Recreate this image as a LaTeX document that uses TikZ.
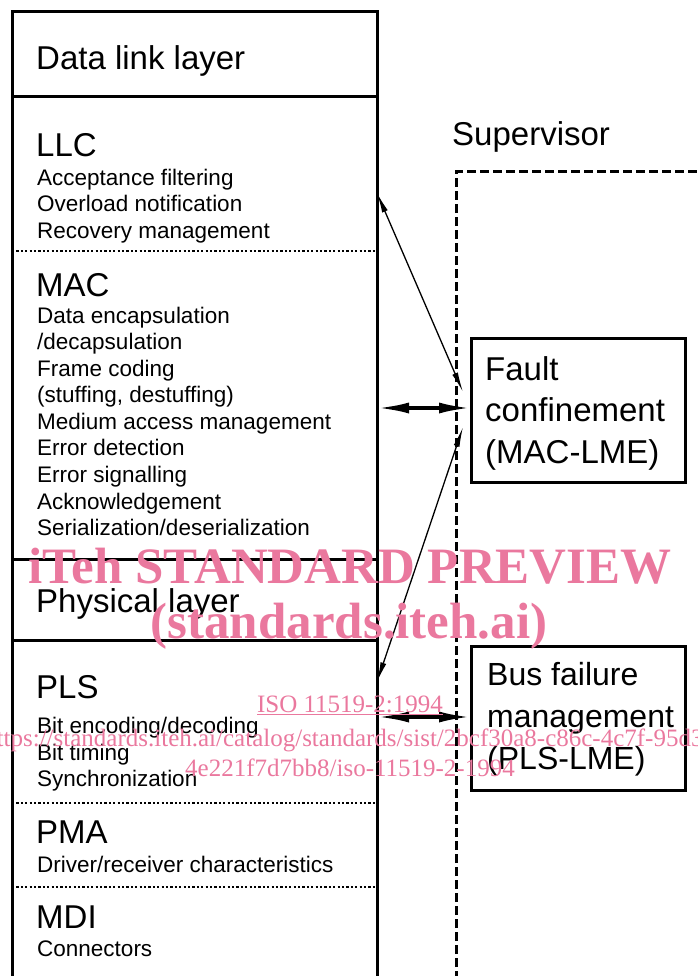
\documentclass[tikz,border=0pt]{standalone}
\usepackage{fontspec}
\setmainfont{Liberation Sans}
\newfontfamily\wmfont{Liberation Serif}
\usetikzlibrary{arrows.meta}
\definecolor{wmpink}{RGB}{234,120,158}
\tikzset{
  big/.style={font=\fontsize{33}{33}\selectfont, anchor=base west, inner sep=0pt},
  big2/.style={font=\fontsize{32}{32}\selectfont, anchor=base west, inner sep=0pt},
  small/.style={font=\fontsize{22.5}{22.5}\selectfont, anchor=base west, inner sep=0pt},
  frame/.style={line width=3pt},
  dotline/.style={line width=2.5pt, dash pattern=on 2.2pt off 2.2pt},
  superline/.style={line width=3pt, dash pattern=on 9pt off 4pt},
  region/.style={inner sep=0pt, outer sep=0pt, anchor=north west},
  lmebox/.style={draw, line width=3pt, inner sep=0pt, outer sep=0pt, anchor=north west, minimum width=214pt, minimum height=144pt},
  thinarrow/.style={line width=1.3pt, {Latex[length=20pt,width=6pt]}-{Latex[length=20pt,width=6pt]}},
  thickarrow/.style={line width=3.5pt, {Latex[length=32pt,width=11pt]}-{Latex[length=32pt,width=11pt]}},
  wm/.style={text=wmpink, anchor=base, inner sep=0pt},
}
\begin{document}
\begin{tikzpicture}[x=1pt,y=-1pt]
\useasboundingbox (0,0) rectangle (697,976);
% left stack
\draw[frame] (12,980) -- (12,12) -- (377,12) -- (377,980);
\draw[frame] (12,97) -- (377,97);
\draw[dotline] (12,251) -- (377,251);
\draw[frame] (12,559) -- (377,559);
\draw[frame] (12,640) -- (377,640);
\draw[dotline] (12,803) -- (377,803);
\draw[dotline] (12,887) -- (377,887);
% region nodes
\node[region, minimum width=365pt, minimum height=154pt] (llc) at (12,97) {};
\node[region, minimum width=365pt, minimum height=308pt] (mac) at (12,251) {};
\node[region, minimum width=365pt, minimum height=163pt] (pls) at (12,640) {};
% texts left
\node[big] (tdll) at (36,70) {Data link layer};
\node[big] (tllc) at (36,157) {LLC};
\node[small] (l1) at (37,186) {Acceptance filtering};
\node[small] (l2) at (37,212) {Overload notification};
\node[small] (l3) at (37,238) {Recovery management};
\node[big] (tmac) at (36,296) {MAC};
\node[small] (m1) at (37,323) {Data encapsulation};
\node[small] (m2) at (37,349) {/decapsulation};
\node[small] (m3) at (37,376) {Frame coding};
\node[small] (m4) at (37,402) {(stuffing, destuffing)};
\node[small] (m5) at (37,429) {Medium access management};
\node[small] (m6) at (37,455) {Error detection};
\node[small] (m7) at (37,482) {Error signalling};
\node[small] (m8) at (37,509) {Acknowledgement};
\node[small] (m9) at (37,535) {Serialization/deserialization};
\node[big] (tphy) at (36,612) {Physical layer};
\node[big] (tpls) at (36,698) {PLS};
\node[small] (p1) at (37,733) {Bit encoding/decoding};
\node[small] (p2) at (37,760) {Bit timing};
\node[small] (p3) at (37,786) {Synchronization};
\node[big] (tpma) at (36,843) {PMA};
\node[small] (a1) at (37,872) {Driver/receiver characteristics};
\node[big] (tmdi) at (36,928) {MDI};
\node[small] (d1) at (37,956) {Connectors};
% supervisor
\node[big] (tsup) at (452,146) {Supervisor};
\draw[superline] (456,980) -- (456,172) -- (705,172);
% LME boxes
\node[lmebox] (fault) at (471,338) {};
\node[big] (f1) at (485,380) {Fault};
\node[big] (f2) at (485,421) {confinement};
\node[big] (f3) at (485,463) {(MAC-LME)};
\node[lmebox] (bus) at (471,646) {};
\node[big2] (b1) at (487,685) {Bus failure};
\node[big2] (b2) at (487,727) {management};
\node[big2] (b3) at (487,769) {(PLS-LME)};
% connectors
\coordinate (faultA) at (463,392);
\coordinate (faultB) at (463,427);
\draw[thinarrow] (faultA) -- (llc.east |- 0,193);
\draw[thickarrow] (mac.east |- 0,408) -- (fault.west |- 0,408);
\draw[thinarrow] (faultB) -- (pls.east |- 0,682);
\draw[thickarrow] (pls.east |- 0,717) -- (bus.west |- 0,717);
% watermark
\node[wm, font=\wmfont\bfseries\fontsize{51}{51}\selectfont] (w1) at (350,583) {iTeh STANDARD PREVIEW};
\node[wm, font=\wmfont\bfseries\fontsize{51}{51}\selectfont] (w2) at (349,638) {(standards.iteh.ai)};
\node[wm, font=\wmfont\fontsize{25}{25}\selectfont] (w3) at (350,712) {\underline{ISO 11519-2:1994}};
\node[wm, font=\wmfont\fontsize{25}{25}\selectfont] (w4) at (348,746) {https://standards.iteh.ai/catalog/standards/sist/2bcf30a8-c86c-4c7f-95d3-};
\node[wm, font=\wmfont\fontsize{25}{25}\selectfont] (w5) at (350,776) {4e221f7d7bb8/iso-11519-2-1994};
\end{tikzpicture}
\end{document}
